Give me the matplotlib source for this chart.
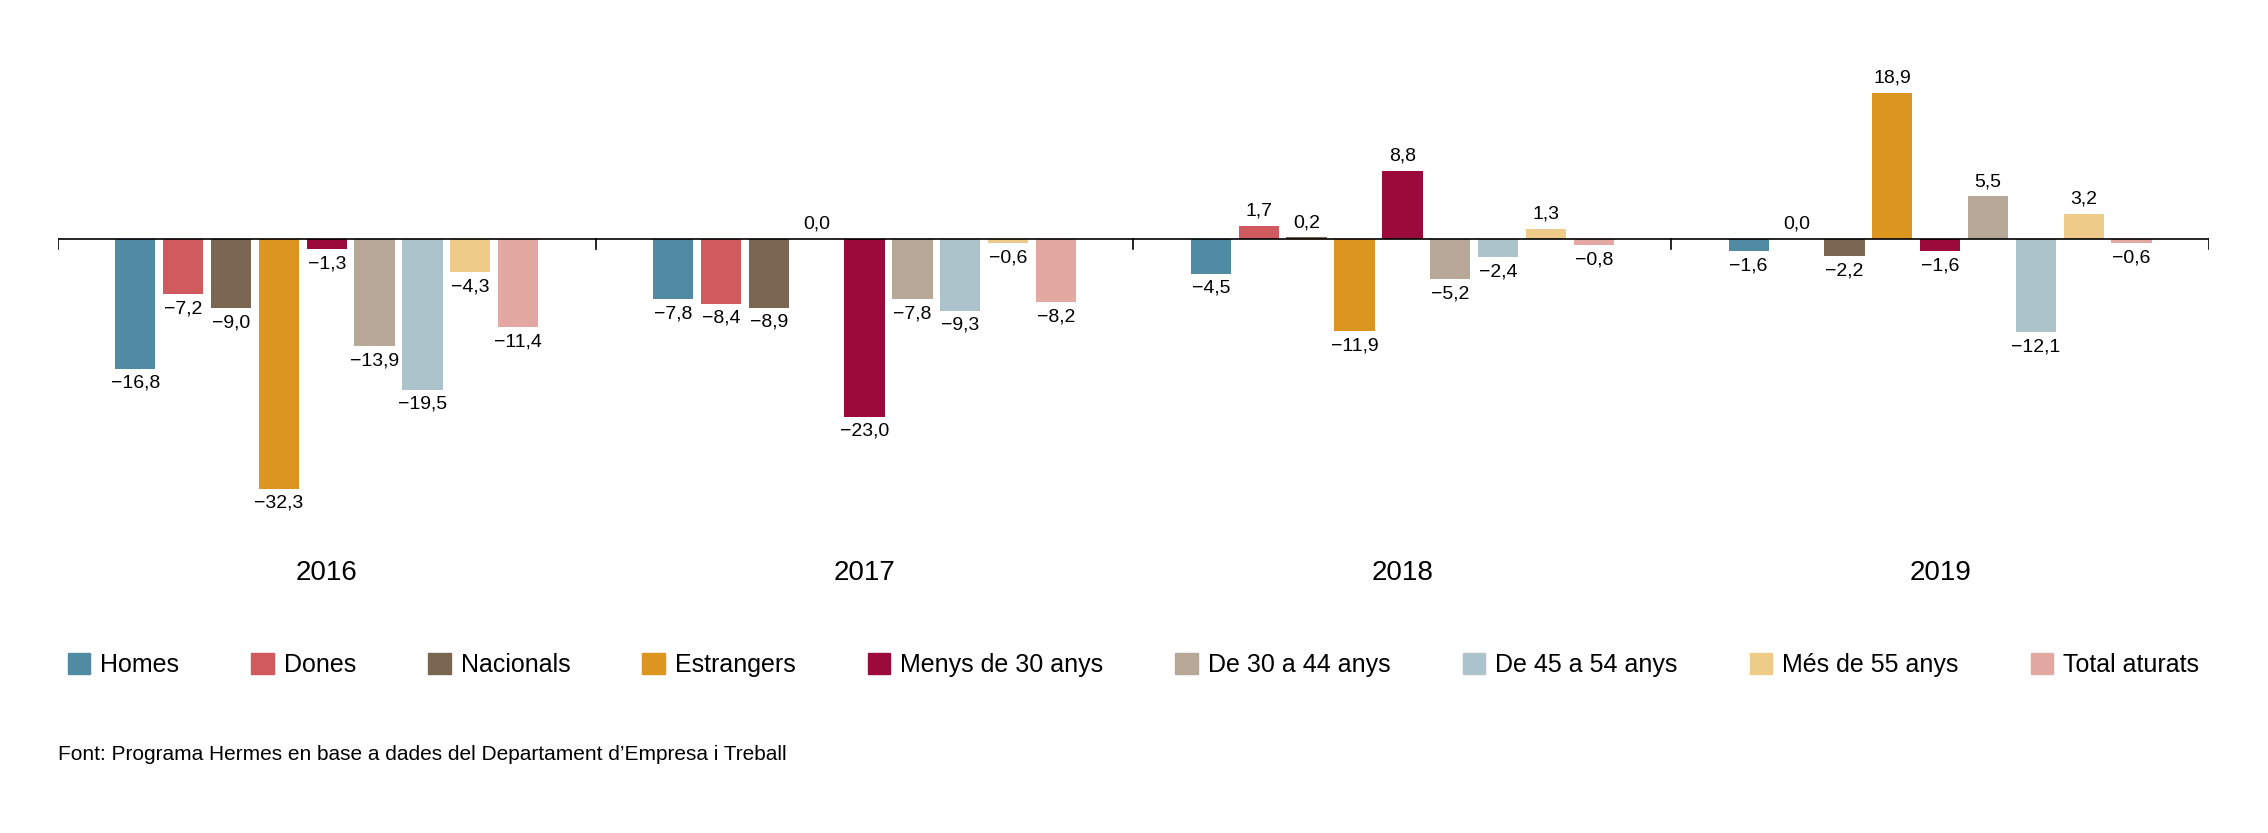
import numpy as np
import matplotlib.pyplot as plt
from matplotlib.patches import Patch

plt.rcParams['font.family'] = ['Liberation Sans', 'DejaVu Sans']

years = ["2016", "2017", "2018", "2019"]
series = ["Homes", "Dones", "Nacionals", "Estrangers", "Menys de 30 anys",
          "De 30 a 44 anys", "De 45 a 54 anys", "Més de 55 anys", "Total aturats"]
colors = ["#4f8ba3", "#d05a5e", "#7a6651", "#dc951f", "#9b0a3a",
          "#b8a898", "#adc3cc", "#efcb8a", "#e3a8a2"]
values = [
    [-16.8, -7.2, -9.0, -32.3, -1.3, -13.9, -19.5, -4.3, -11.4],
    [-7.8, -8.4, -8.9, 0.0, -23.0, -7.8, -9.3, -0.6, -8.2],
    [-4.5, 1.7, 0.2, -11.9, 8.8, -5.2, -2.4, 1.3, -0.8],
    [-1.6, 0.0, -2.2, 18.9, -1.6, 5.5, -12.1, 3.2, -0.6],
]

fig = plt.figure(figsize=(22.68, 8.33), dpi=100)
ax = fig.add_axes([0.0255, 0.34, 0.9485, 0.625])

step = 0.089
width = 0.075
for g, vals in enumerate(values):
    for i, v in enumerate(vals):
        x = g + 0.5 + (i - 4) * step
        ax.bar(x, v, width=width, color=colors[i])
        lab = f"{abs(v):.1f}".replace(".", ",")
        if v < 0:
            ax.text(x, v - 0.8, "\u2212" + lab, ha="center", va="top", fontsize=14)
        else:
            ax.text(x, v + 0.8, lab, ha="center", va="bottom", fontsize=14)
    ax.text(g + 0.5, -41.5, years[g], ha="center", va="top", fontsize=20)

ax.axhline(0, color="black", lw=1.2)
for b in range(5):
    ax.plot([b, b], [0, -1.3], color="black", lw=1.2)

ax.set_xlim(0, 4)
ax.set_ylim(-40.2, 27.1)
ax.axis("off")

handles = [Patch(color=c, label=s) for c, s in zip(colors, series)]
fig.legend(handles=handles, ncol=9, loc="lower left",
           bbox_to_anchor=(0.0255, 0.175, 0.9485, 0.08), mode="expand",
           frameon=False, fontsize=18, handlelength=0.9, handleheight=0.9,
           handletextpad=0.4, borderaxespad=0)

fig.text(0.0255, 0.094, "Font: Programa Hermes en base a dades del Departament d\u2019Empresa i Treball",
         fontsize=15, va="center")

fig.savefig("out.png", dpi=100)
